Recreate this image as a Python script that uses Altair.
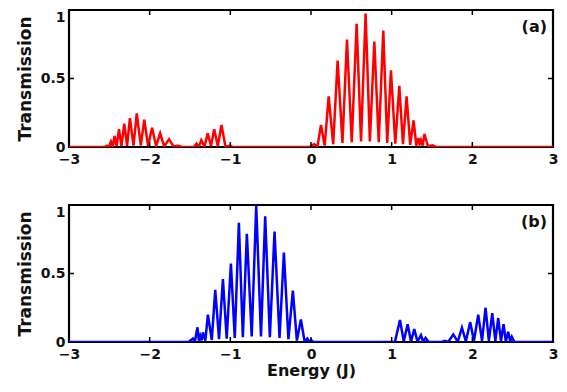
import altair as alt
import pandas as pd

# Panel (a): energy (J) and transmission, peaks and valleys
energy_a = [-3.0, -2.56, -2.53, -2.505, -2.48, -2.458, -2.435, -2.41, -2.38, -2.35,
            -2.315, -2.28, -2.245, -2.2, -2.16, -2.11, -2.067, -2.02, -1.97, -1.92,
            -1.87, -1.82, -1.76, -1.70, -1.65, -1.60, -1.45, -1.42, -1.39, -1.36,
            -1.32, -1.28, -1.24, -1.20, -1.155, -1.11, -1.06, -1.0, -0.97, -0.02,
            0.037, 0.08, 0.124, 0.17, 0.219, 0.275, 0.33, 0.39, 0.446, 0.505,
            0.566, 0.62, 0.677, 0.73, 0.785, 0.84, 0.896, 0.945, 0.991, 1.045,
            1.095, 1.14, 1.185, 1.23, 1.272, 1.305, 1.33, 1.347, 1.363, 1.385,
            1.407, 1.45, 1.506, 1.55, 3.0]
trans_a = [0.0, 0.0, 0.01, 0.002, 0.04, 0.003, 0.08, 0.005, 0.13, 0.006,
           0.17, 0.008, 0.21, 0.01, 0.245, 0.01, 0.20, 0.008, 0.14, 0.006,
           0.10, 0.004, 0.056, 0.002, 0.01, 0.0, 0.0, 0.025, 0.003, 0.05,
           0.004, 0.10, 0.005, 0.13, 0.005, 0.16, 0.002, 0.01, 0.0, 0.0,
           0.02, 0.005, 0.16, 0.01, 0.37, 0.02, 0.63, 0.03, 0.785, 0.035,
           0.90, 0.04, 0.975, 0.04, 0.77, 0.035, 0.85, 0.03, 0.56, 0.025,
           0.446, 0.02, 0.37, 0.015, 0.195, 0.01, 0.066, 0.02, 0.05, 0.01,
           0.095, 0.005, 0.012, 0.0, 0.0]

# Panel (b)
energy_b = [-3.0, -1.52, -1.464, -1.44, -1.407, -1.39, -1.373, -1.356, -1.34, -1.31,
            -1.278, -1.23, -1.187, -1.14, -1.092, -1.045, -0.993, -0.945, -0.894, -0.845,
            -0.795, -0.735, -0.679, -0.62, -0.568, -0.51, -0.452, -0.39, -0.336, -0.28,
            -0.225, -0.175, -0.125, -0.08, -0.045, -0.02, 0.0, 0.03, 1.04, 1.103,
            1.15, 1.198, 1.24, 1.28, 1.32, 1.363, 1.39, 1.42, 1.46, 1.62,
            1.66, 1.70, 1.764, 1.82, 1.871, 1.92, 1.974, 2.02, 2.073, 2.12,
            2.164, 2.205, 2.247, 2.285, 2.321, 2.355, 2.387, 2.415, 2.445, 2.47,
            2.49, 2.52, 3.0]
trans_b = [0.0, 0.0, 0.025, 0.003, 0.107, 0.01, 0.045, 0.012, 0.07, 0.01,
           0.20, 0.015, 0.38, 0.02, 0.46, 0.025, 0.573, 0.03, 0.871, 0.035,
           0.79, 0.04, 0.995, 0.04, 0.918, 0.035, 0.806, 0.03, 0.653, 0.02,
           0.375, 0.01, 0.164, 0.005, 0.025, 0.002, 0.015, 0.0, 0.0, 0.16,
           0.005, 0.13, 0.004, 0.095, 0.003, 0.05, 0.002, 0.03, 0.0, 0.0,
           0.008, 0.0, 0.055, 0.003, 0.105, 0.005, 0.145, 0.007, 0.20, 0.009,
           0.25, 0.009, 0.21, 0.008, 0.175, 0.006, 0.13, 0.004, 0.075, 0.003,
           0.038, 0.0, 0.0]

x_axis_values = [-3, -2, -1, 0, 1, 2, 3]
y_axis_values = [0, 0.5, 1]
inner_x_ticks = [-2, -1, 0, 1, 2]
inner_y_ticks = [0.5]
panel_labels = ["(a)", "(b)"]
line_colors = ["#ff0000", "#0000ff"]

W, H = 484, 137
FONT = "DejaVu Sans"
TICK = 5
TXT = "#111111"

xscale = alt.Scale(domain=[-3, 3], nice=False, zero=False)
yscale = alt.Scale(domain=[0, 1], nice=False, zero=False)


def make_x_axis(show_title):
    kw = dict(values=x_axis_values, ticks=False, grid=False, domain=False,
              labelPadding=5, labelFontSize=14, labelFont=FONT, labelFontWeight="bold",
              labelColor=TXT, labelFlush=False, labelOverlap=False,
              labelExpr="datum.value < 0 ? '\u2212' + abs(datum.value) : '' + datum.value")
    if show_title:
        kw.update(title="Energy (J)", titleFont=FONT, titleFontSize=16,
                  titleFontWeight="bold", titleColor=TXT, titlePadding=1)
    else:
        kw.update(title="")
    return alt.Axis(**kw)


y_axis = alt.Axis(values=y_axis_values, ticks=False, grid=False, domain=False,
                  labelPadding=4, labelFontSize=14, labelFont=FONT, labelFontWeight="bold",
                  labelColor=TXT, labelFlush=False, labelOverlap=False,
                  labelBaseline={"condition": {"test": "datum.value == 1", "value": "top"},
                                 "value": "middle"},
                  labelExpr="'' + datum.value",
                  title="Transmission", titleFont=FONT, titleFontSize=17,
                  titleFontWeight="bold", titleColor=TXT, titlePadding=6)


def panel(energy, trans, color, label, show_xtitle):
    xa = make_x_axis(show_xtitle)
    df = pd.DataFrame({"E": energy, "T": trans})
    line = alt.Chart(df).mark_line(color=color, strokeWidth=2.5, clip=True).encode(
        x=alt.X("E:Q", scale=xscale, axis=xa),
        y=alt.Y("T:Q", scale=yscale, axis=y_axis),
    )
    tx = pd.DataFrame({"E": inner_x_ticks})
    bottom_ticks = alt.Chart(tx).mark_rule(color="black", strokeWidth=1.5).encode(
        x=alt.X("E:Q", scale=xscale, axis=xa), y=alt.value(H), y2=alt.value(H - TICK))
    top_ticks = alt.Chart(tx).mark_rule(color="black", strokeWidth=1.5).encode(
        x=alt.X("E:Q", scale=xscale, axis=xa), y=alt.value(0), y2=alt.value(TICK))
    ty = pd.DataFrame({"T": inner_y_ticks})
    left_ticks = alt.Chart(ty).mark_rule(color="black", strokeWidth=1.5).encode(
        y=alt.Y("T:Q", scale=yscale, axis=y_axis), x=alt.value(0), x2=alt.value(TICK))
    right_ticks = alt.Chart(ty).mark_rule(color="black", strokeWidth=1.5).encode(
        y=alt.Y("T:Q", scale=yscale, axis=y_axis), x=alt.value(W), x2=alt.value(W - TICK))
    lab = alt.Chart(pd.DataFrame({"lab": [label]})).mark_text(
        font=FONT, fontSize=16, fontWeight="bold", color=TXT, align="right",
        baseline="middle").encode(x=alt.value(W - 6), y=alt.value(17), text="lab:N")
    return alt.layer(line, bottom_ticks, top_ticks, left_ticks, right_ticks, lab).properties(
        width=W, height=H)


chart = alt.vconcat(
    panel(energy_a, trans_a, line_colors[0], panel_labels[0], False),
    panel(energy_b, trans_b, line_colors[1], panel_labels[1], True),
    spacing=35,
).properties(
    padding={"left": 7, "top": 0, "right": 0, "bottom": 0}
).configure_view(stroke="black", strokeWidth=2.2)

chart.save("out.html", embed_options={"renderer": "svg", "actions": False})
